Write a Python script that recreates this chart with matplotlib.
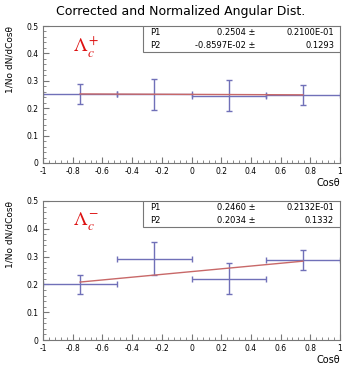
import numpy as np
import matplotlib
matplotlib.use("Agg")
import matplotlib.pyplot as plt
from matplotlib.ticker import MultipleLocator

# Data
bin_centers = [-0.75, -0.25, 0.25, 0.75]
bin_halfwidth = [0.25, 0.25, 0.25, 0.25]
top_vals = [0.252, 0.251, 0.246, 0.247]
top_errs = [0.035, 0.057, 0.056, 0.036]
bot_vals = [0.200, 0.293, 0.221, 0.287]
bot_errs = [0.034, 0.059, 0.057, 0.036]
top_p = (0.2504, -0.8597e-02)
bot_p = (0.2460, 0.2034)
top_stats = [("P1", "0.2504", "0.2100E-01"), ("P2", "-0.8597E-02", "0.1293")]
bot_stats = [("P1", "0.2460", "0.2132E-01"), ("P2", "0.2034", "0.1332")]
fit_range = (-0.75, 0.75)

W, H = 358, 367
fig = plt.figure(figsize=(W/100, H/100), dpi=100)

def ax_rect(l, r, t, b):
    return [l/W, 1 - b/H, (r-l)/W, (b-t)/H]

ax1 = fig.add_axes(ax_rect(43, 340, 26, 163))
ax2 = fig.add_axes(ax_rect(43, 340, 201, 340))

blue = '#7070b8'
red = '#c86868'
frame = '#777777'

def draw(ax, vals, errs, p, stats, label):
    ax.errorbar(bin_centers, vals, xerr=bin_halfwidth, yerr=errs, fmt='none',
                ecolor=blue, elinewidth=1.0, capsize=2.5, capthick=1.0, zorder=2)
    xs = np.linspace(fit_range[0], fit_range[1], 50)
    ax.plot(xs, p[0]*(1 + p[1]*xs), color=red, lw=1.0, zorder=3)
    ax.set_xlim(-1, 1)
    ax.set_ylim(0, 0.5)
    ax.xaxis.set_major_locator(MultipleLocator(0.2))
    ax.xaxis.set_minor_locator(MultipleLocator(0.04))
    ax.yaxis.set_major_locator(MultipleLocator(0.1))
    ax.yaxis.set_minor_locator(MultipleLocator(0.02))
    ax.tick_params(which='both', direction='in', top=False, right=False,
                   labelsize=5.5, color=frame, pad=3)
    ax.tick_params(which='major', length=4)
    ax.tick_params(which='minor', length=2)
    ax.set_xticks(np.round(np.arange(-1, 1.01, 0.2), 1))
    ax.set_xticklabels(['-1', '-0.8', '-0.6', '-0.4', '-0.2', '0', '0.2', '0.4', '0.6', '0.8', '1'])
    ax.set_yticks([0, 0.1, 0.2, 0.3, 0.4, 0.5])
    ax.set_yticklabels(['0', '0.1', '0.2', '0.3', '0.4', '0.5'])
    for s in ax.spines.values():
        s.set_color(frame)
        s.set_linewidth(0.8)
    ax.set_xlabel('Cosθ', loc='right', fontsize=7, labelpad=1)
    ax.set_ylabel('1/No dN/dCosθ', loc='top', fontsize=6.5, labelpad=9)
    # stats box
    x0, y0 = 0.337, 0.81
    ax.add_patch(plt.Rectangle((x0, y0), 1 - x0, 1 - y0, transform=ax.transAxes,
                               fill=True, facecolor='white', edgecolor=frame, lw=0.8, zorder=5))
    for i, (n, v, e) in enumerate(stats):
        yy = 1 - (0.25 + 0.5*i)*(1 - y0)
        ax.text(x0 + 0.025, yy, n, transform=ax.transAxes, fontsize=6, va='center', ha='left', zorder=6)
        ax.text(0.715, yy, v + ' ±', transform=ax.transAxes, fontsize=6, va='center', ha='right', zorder=6)
        ax.text(0.98, yy, e, transform=ax.transAxes, fontsize=6, va='center', ha='right', zorder=6)
    ax.text(0.10, 0.85, label, transform=ax.transAxes, color='#dd1111', fontsize=14,
            va='center', ha='left', math_fontfamily='stix')

draw(ax1, top_vals, top_errs, top_p, top_stats, r'$\Lambda_c^+$')
draw(ax2, bot_vals, bot_errs, bot_p, bot_stats, r'$\Lambda_c^-$')

fig.text(181/W, 1 - 12/H, 'Corrected and Normalized Angular Dist.', ha='center', va='center', fontsize=9)

fig.savefig('out.png', dpi=100)
